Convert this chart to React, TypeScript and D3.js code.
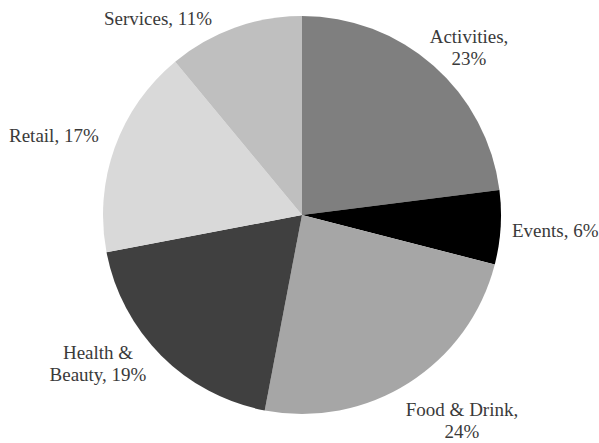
import React from "react";
import * as d3 from "d3";

const categories = ["Activities", "Events", "Food & Drink", "Health & Beauty", "Retail", "Services"];
const values = [23, 6, 24, 19, 17, 11];
const colors = ["#7f7f7f", "#000000", "#a6a6a6", "#404040", "#d9d9d9", "#bfbfbf"];
const labelLines = [
  ["Activities,", "23%"],
  ["Events, 6%"],
  ["Food & Drink,", "24%"],
  ["Health &", "Beauty, 19%"],
  ["Retail, 17%"],
  ["Services, 11%"],
];
const labelPos: [number, number, string][] = [
  [469, 43, "middle"],
  [512, 237, "start"],
  [462, 416, "middle"],
  [98, 359, "middle"],
  [9, 142, "start"],
  [104, 25, "start"],
];

export default function App() {
  const W = 599, H = 443;
  const cx = 302, cy = 215, r = 199;
  const pie = d3.pie<number>().sort(null).value((d) => d)(values);
  const arc = d3.arc<d3.PieArcDatum<number>>().innerRadius(0).outerRadius(r);
  return (
    <svg width={W} height={H} style={{ position: "absolute", left: 0, top: 0 }}>
      <rect width={W} height={H} fill="#fff" />
      <g transform={`translate(${cx},${cy})`}>
        {pie.map((p, i) => (
          <path key={i} d={arc(p) || ""} fill={colors[i]} />
        ))}
      </g>
      {labelLines.map((lines, i) => (
        <text
          key={i}
          x={labelPos[i][0]}
          y={labelPos[i][1]}
          textAnchor={labelPos[i][2] as any}
          fontFamily="Liberation Serif, Times New Roman, serif"
          fontSize={19}
          fill="#3a3a3a"
        >
          {lines.map((l, j) => (
            <tspan key={j} x={labelPos[i][0]} dy={j === 0 ? 0 : 22}>
              {l}
            </tspan>
          ))}
        </text>
      ))}
    </svg>
  );
}
